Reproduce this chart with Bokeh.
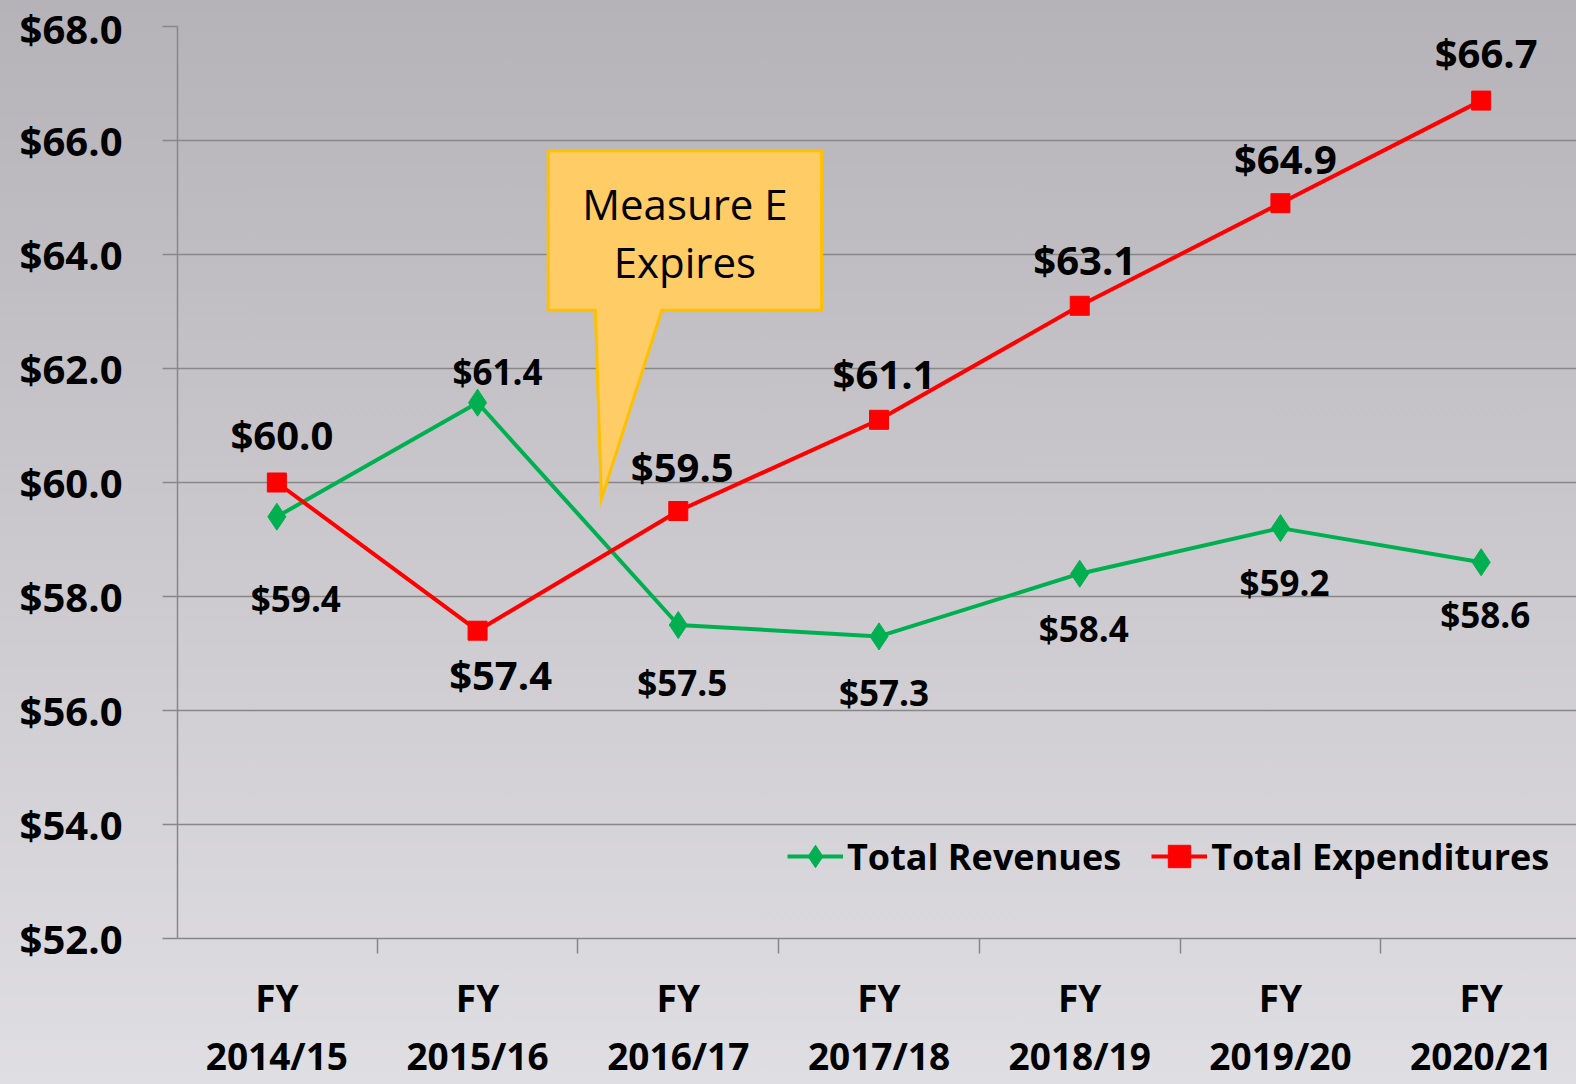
from bokeh.plotting import figure
from bokeh.models import (Range1d, FixedTicker, NumeralTickFormatter, Legend, LegendItem,
                          ColumnDataSource)
from bokeh.core.properties import value
from bokeh.embed import file_html
from bokeh.resources import INLINE

# ---------------- data ----------------
categories = ["FY\n2014/15", "FY\n2015/16", "FY\n2016/17", "FY\n2017/18",
              "FY\n2018/19", "FY\n2019/20", "FY\n2020/21"]
revenues = [59.4, 61.4, 57.5, 57.3, 58.4, 59.2, 58.6]
expenditures = [60.0, 57.4, 59.5, 61.1, 63.1, 64.9, 66.7]
y_ticks = [52, 54, 56, 58, 60, 62, 64, 66, 68]
callout_text = "Measure E\nExpires"

# label placement (pixels) per point
rev_dx = [19, 20, 4, 5, 4, 4, 4]
rev_dy = [82, -31, 57, 56, 55, 54, 52]
exp_dx = [5, 23, 4, 5, 5, 5, 5]
exp_dy = [-48, 44, -45, -46, -46, -45, -48]

FONT = "Open Sans"
GREEN = "#00b050"
RED = "#ff0000"
GRID = "#878787"

xs = list(range(len(categories)))

p = figure(width=1576, height=1084, output_backend="svg", toolbar_location=None,
           x_range=Range1d(-0.495, 6.475), y_range=Range1d(52, 68),
           min_border_left=177, min_border_top=26, min_border_right=0,
           min_border_bottom=144)
p.border_fill_color = None
p.background_fill_color = None
p.outline_line_color = None

# axes
xa = p.xaxis[0]
xa.ticker = FixedTicker(ticks=xs, minor_ticks=[i - 0.5 for i in range(len(categories) + 1)])
xa.major_label_overrides = {i: c for i, c in enumerate(categories)}
xa.major_tick_out = 0
xa.major_tick_in = 0
xa.minor_tick_out = 15
xa.minor_tick_in = 0
xa.minor_tick_line_color = GRID
xa.minor_tick_line_width = 1.5
xa.axis_line_color = GRID
xa.axis_line_width = 1.5
xa.major_label_text_font = FONT
xa.major_label_text_font_style = "bold"
xa.major_label_text_font_size = "37px"
xa.major_label_text_color = "black"
xa.major_label_text_line_height = 1.15
xa.major_label_standoff = 18

ya = p.yaxis[0]
ya.ticker = FixedTicker(ticks=y_ticks, minor_ticks=[])
ya.formatter = NumeralTickFormatter(format="$0.0")
ya.major_tick_out = 15
ya.major_tick_in = 0
ya.major_tick_line_color = GRID
ya.major_tick_line_width = 1.5
ya.axis_line_color = GRID
ya.axis_line_width = 1.5
ya.major_label_text_font = FONT
ya.major_label_text_font_style = "bold"
ya.major_label_text_font_size = "40px"
ya.major_label_text_color = "black"
ya.major_label_standoff = 40

p.xgrid.grid_line_color = None
p.ygrid.ticker = FixedTicker(ticks=y_ticks)
p.ygrid.grid_line_color = GRID
p.ygrid.grid_line_width = 1.5

# callout (Measure E expires) drawn in data units
box_x = [1.352, 2.714, 2.714, 1.918, 1.617, 1.587, 1.352]
box_y = [65.82, 65.82, 63.02, 63.02, 59.71, 63.02, 63.02]
p.patch(box_x, box_y, fill_color="#ffcc66", line_color="#ffc000", line_width=3,
        line_join="miter")
p.text(x=[2.033], y=[64.39], text=[callout_text], text_align="center",
       text_baseline="middle", text_font=value(FONT), text_font_size="42px",
       text_color="black", text_line_height=1.02)

# series
src = ColumnDataSource(dict(x=xs, rev=revenues, exp=expenditures,
                            rev_lbl=[f"${v:.1f}" for v in revenues],
                            exp_lbl=[f"${v:.1f}" for v in expenditures],
                            rev_dx=rev_dx, rev_dy=rev_dy, exp_dx=exp_dx, exp_dy=exp_dy))

r_line = p.line("x", "rev", source=src, line_color=GREEN, line_width=4)
r_mark = p.scatter("x", "rev", source=src, marker="diamond", size=27,
                   fill_color=GREEN, line_color=GREEN)
e_line = p.line("x", "exp", source=src, line_color=RED, line_width=4)
e_mark = p.scatter("x", "exp", source=src, marker="square", size=19,
                   fill_color=RED, line_color=RED)

p.text(x="x", y="rev", text="rev_lbl", source=src, x_offset="rev_dx", y_offset="rev_dy",
       text_align="center", text_baseline="middle", text_font=value(FONT),
       text_font_style="bold", text_font_size="35px", text_color="black")
p.text(x="x", y="exp", text="exp_lbl", source=src, x_offset="exp_dx", y_offset="exp_dy",
       text_align="center", text_baseline="middle", text_font=value(FONT),
       text_font_style="bold", text_font_size="40px", text_color="black")

legend = Legend(items=[LegendItem(label="Total Revenues", renderers=[r_line, r_mark]),
                       LegendItem(label="Total Expenditures", renderers=[e_line, e_mark])],
                orientation="horizontal", location=(610, 52),
                background_fill_alpha=0, border_line_color=None,
                label_text_font=FONT, label_text_font_style="bold",
                label_text_font_size="36px", label_text_color="black",
                glyph_width=56, glyph_height=60, label_standoff=4, spacing=30,
                padding=0, margin=0)
p.add_layout(legend)

html = file_html(p, INLINE)
html = html.replace("<head>", "<head><style>html{min-height:100%;background:linear-gradient(to bottom,#b6b3b8,#dfdee3) fixed;}</style>", 1)
open("out.html", "w").write(html)
